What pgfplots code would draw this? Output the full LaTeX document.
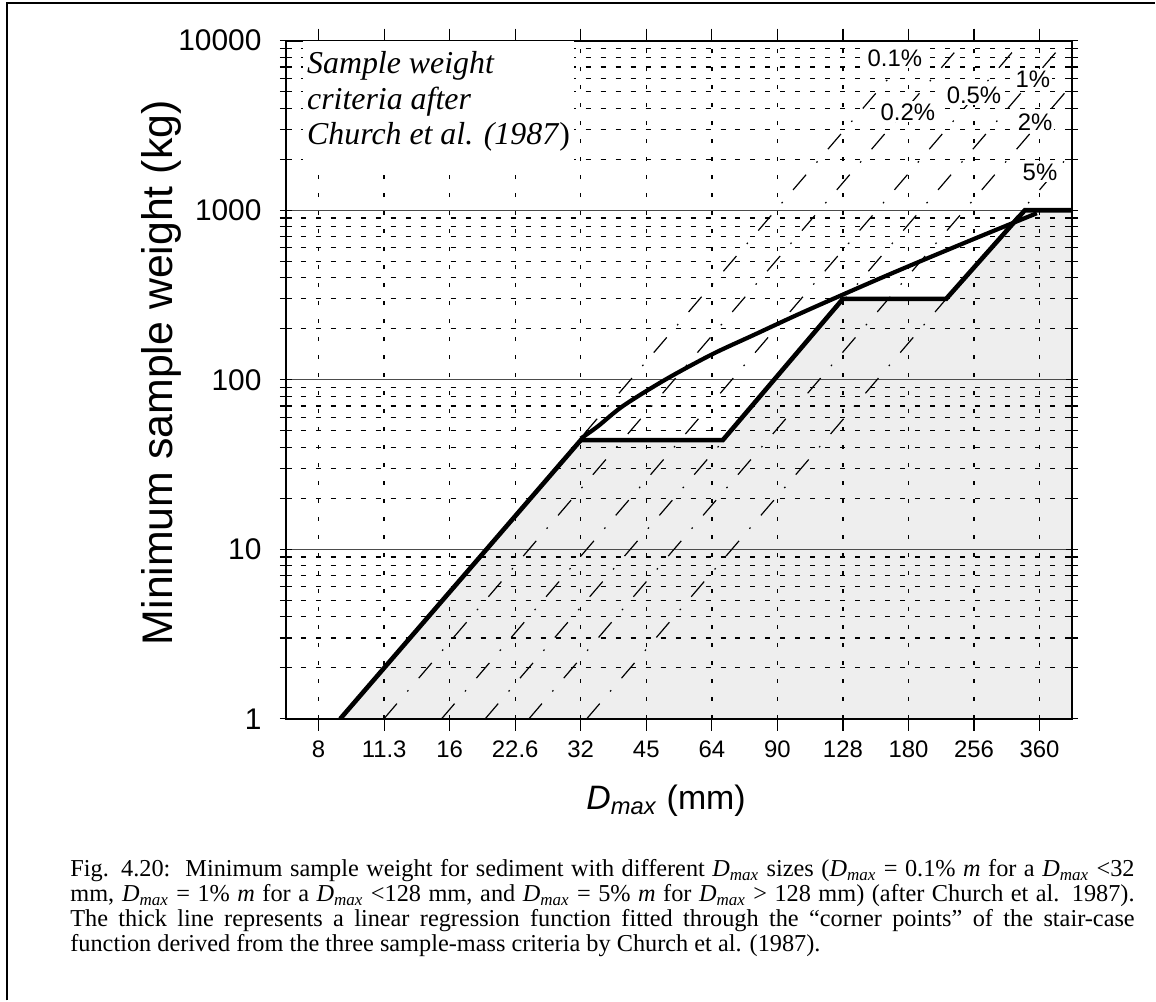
\documentclass[border=0pt]{standalone}
\usepackage{fontspec}
\setmainfont{Liberation Sans}
\newfontfamily\tnr{Liberation Serif}
\usepackage{pgfplots}
\pgfplotsset{compat=1.18}
\newcommand\Dm{\textit{D}\textsubscript{\textit{max}}}
\definecolor{fillgray}{RGB}{238,238,238}
\begin{document}
\begin{tikzpicture}
\draw[line width=0.8bp] (3.4bp,-500.5bp) -- (3.4bp,-1.6bp) -- (578bp,-1.6bp);
\begin{axis}[
  set layers,
  at={(143bp,-359.65bp)}, anchor=south west,
  scale only axis, width=393.5bp, height=339.3bp,
  xmode=log, ymode=log,
  xmin=6.727, xmax=430.5, ymin=1, ymax=10000,
  xtick={8,11.3137,16,22.6274,32,45.2548,64,90.5097,128,181.0193,256,362.0387},
  xticklabels={8,11.3,16,22.6,32,45,64,90,128,180,256,360},
  ytick={1,10,100,1000,10000},
  yticklabels={1,10,100,1000,10000},
  minor ytick={2,3,4,5,6,7,8,9,20,30,40,50,60,70,80,90,200,300,400,500,600,700,800,900,2000,3000,4000,5000,6000,7000,8000,9000},
  xmajorgrids, ymajorgrids, yminorgrids,
  major x grid style={black, line width=0.7bp, dash pattern=on 2bp off 7bp},
  major y grid style={black!70, line width=0.5bp},
  minor y grid style={black, line width=0.6bp, dash pattern=on 2.5bp off 5bp},
  axis line style={black, line width=0.9bp},
  xtick align=outside, ytick align=center,
  major tick length=6bp, minor tick length=6bp,
  tick style={black, line width=0.6bp},
  yticklabel style={font=\fontsize{15}{18}\selectfont, anchor=east, inner sep=0pt, xshift=-9bp},
  xticklabel style={font=\fontsize{12}{14}\selectfont, anchor=north, inner sep=0pt, yshift=-5bp},
  every axis y label/.style={at={(axis description cs:-0.1576,0.5103)}, rotate=90, anchor=center},
  every axis x label/.style={at={(axis description cs:0.4835,-0.1205)}, anchor=center},
  ylabel={\fontsize{21.5}{24}\selectfont Minimum sample weight (kg)},
  xlabel={\fontsize{17}{20}\selectfont \textit{D}\textsubscript{\textit{max}} (mm)},
]
% shaded area below the stair-case criteria
\addplot[fill=fillgray, draw=none, on layer=axis background] coordinates
  {(8.97,1) (32,44) (67.8,44) (128,300) (221,300) (335,1000) (430.5,1000) (430.5,1) (8.97,1)};
% iso-percentage lines (largest stone = p% of sample mass)
\addplot[black, line width=0.6bp, dash pattern=on 10bp off 8bp on 0.8bp off 8bp] coordinates {(8.97,1) (193.3,10000)};
\addplot[black, line width=0.6bp, dash pattern=on 10bp off 8bp on 0.8bp off 8bp] coordinates {(11.30,1) (243.5,10000)};
\addplot[black, line width=0.6bp, dash pattern=on 10bp off 8bp on 0.8bp off 8bp] coordinates {(15.33,1) (330.3,10000)};
\addplot[black, line width=0.6bp, dash pattern=on 10bp off 8bp on 0.8bp off 8bp] coordinates {(19.31,1) (416.0,10000)};
\addplot[black, line width=0.6bp, dash pattern=on 10bp off 8bp on 0.8bp off 8bp] coordinates {(24.33,1) (524.2,10000)};
\addplot[black, line width=0.6bp, dash pattern=on 10bp off 8bp on 0.8bp off 8bp] coordinates {(33.03,1) (711.6,10000)};
% stair-case function
\addplot[black, line width=2.3bp] coordinates
  {(8.97,1) (32,44) (67.8,44) (128,300) (221,300) (335,1000) (430.5,1000)};
% regression line
\addplot[black, line width=2.1bp, smooth] coordinates
  {(32,45) (35,53) (40,70) (50,100) (64,141) (80,184) (100,240) (128,318) (160,408) (200,520) (256,677) (300,800) (357,960)};
% percentage labels
\node[fill=white, inner sep=1bp, font=\fontsize{12}{14}\selectfont] at (axis cs:168.5,7907) {0.1\%};
\node[fill=white, inner sep=1bp, font=\fontsize{12}{14}\selectfont] at (axis cs:180.5,3800) {0.2\%};
\node[fill=white, inner sep=1bp, font=\fontsize{12}{14}\selectfont] at (axis cs:256,4786) {0.5\%};
\node[fill=white, inner sep=1bp, font=\fontsize{12}{14}\selectfont] at (axis cs:349.7,5945) {1\%};
\node[fill=white, inner sep=1bp, font=\fontsize{12}{14}\selectfont] at (axis cs:353.6,3318) {2\%};
\node[fill=white, inner sep=1bp, font=\fontsize{12}{14}\selectfont] at (axis cs:363,1683) {5\%};
% text box
\node[anchor=north west, fill=white, inner xsep=2bp, inner ysep=5bp, align=left,
      font=\tnr\itshape\fontsize{16}{18}\selectfont]
  at (axis description cs:0.0216,1) {Sample weight\\criteria after\\Church et al. (1987\textup{)}};
\end{axis}
% caption
\node[anchor=north west, inner sep=0pt, align=left, font=\tnr\fontsize{12.2}{12.5}\selectfont] at (35bp,-430bp)
{\makebox[532.5bp][s]{Fig. 4.20:\ \ Minimum sample weight for sediment with different \Dm{} sizes (\Dm{} = 0.1\% \textit{m} for a \Dm{} <32}\\
 \makebox[532.5bp][s]{mm, \Dm{} = 1\% \textit{m} for a \Dm{} <128 mm, and \Dm{} = 5\% \textit{m} for \Dm{} > 128 mm) (after Church et al. 1987).}\\
 \makebox[532.5bp][s]{The thick line represents a linear regression function fitted through the “corner points” of the stair-case}\\
 function derived from the three sample-mass criteria by Church et al. (1987).};
\path (0,0) rectangle (578bp,-500.5bp);
\end{tikzpicture}
\end{document}
